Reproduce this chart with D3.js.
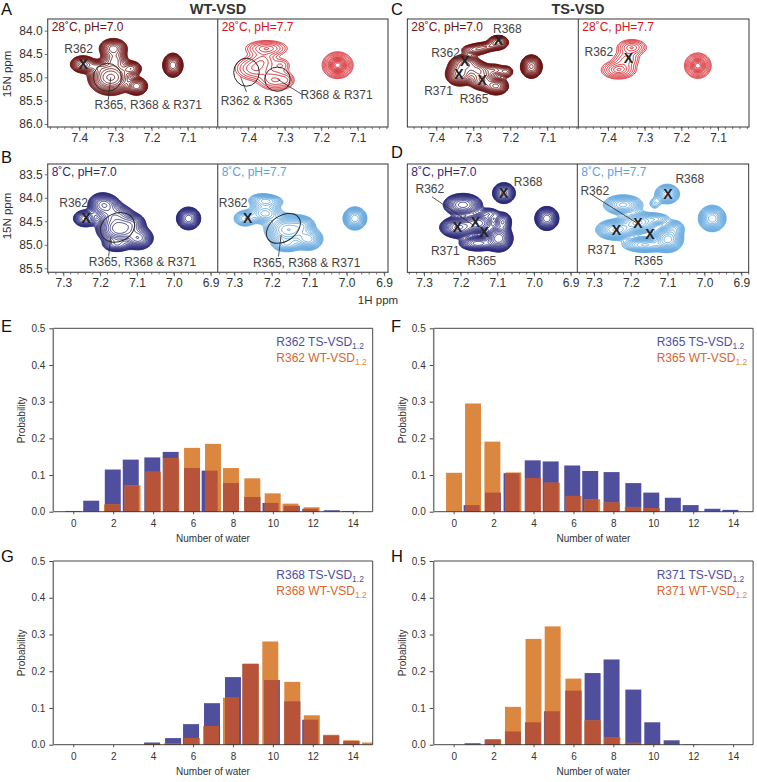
<!DOCTYPE html>
<html>
<head>
<meta charset="utf-8">
<script src="https://cdn.jsdelivr.net/npm/d3@7"></script>
<style>
html, body { margin: 0; padding: 0; background: #fff; }
text { font-family: "Liberation Sans", Arial, sans-serif; fill: #333; }
</style>
</head>
<body>
<div id="viz"></div>
<script>
// water histograms, x = where the bin really falls, p = probability
var waterTicks = [0, 2, 4, 6, 8, 10, 12, 14];
var probTicks = [0, 0.1, 0.2, 0.3, 0.4, 0.5];

var r362TsX = [0, 0.9, 1.98, 2.88, 3.96, 4.88, 5.95, 6.83, 7.9, 8.97, 9.88, 10.95, 11.87, 12.95, 13.87];
var r362Ts  = [0.002, 0.03, 0.115, 0.142, 0.148, 0.163, 0.119, 0.112, 0.078, 0.04, 0.024, 0.016, 0.008, 0.004, 0.002];
var r362WtX = [1.94, 2.97, 3.99, 4.91, 5.95, 7, 7.9, 8.97, 9.99, 10.88, 11.94];
var r362Wt  = [0.02, 0.072, 0.109, 0.146, 0.174, 0.185, 0.119, 0.091, 0.05, 0.022, 0.012];

var r365TsX = [0.9, 1.97, 2.9, 3.96, 4.86, 5.94, 6.84, 7.91, 9, 9.9, 10.98, 11.87, 12.96, 13.86];
var r365Ts  = [0.018, 0.052, 0.105, 0.14, 0.137, 0.126, 0.111, 0.108, 0.078, 0.052, 0.038, 0.018, 0.008, 0.005];
var r365WtX = [0.02, 0.97, 1.94, 2.99, 3.98, 4.92, 6.01, 6.94, 7.92, 8.97, 9.92, 10.9, 11.94];
var r365Wt  = [0.106, 0.295, 0.191, 0.107, 0.092, 0.079, 0.043, 0.034, 0.025, 0.013, 0.01, 0.002, 0.001];

var r368TsX = [3.95, 5, 5.9, 6.95, 8, 8.88, 9.95, 10.97, 11.87, 12.92, 13.93];
var r368Ts  = [0.006, 0.018, 0.056, 0.113, 0.184, 0.22, 0.176, 0.118, 0.068, 0.025, 0.01];
var r368WtX = [3.95, 4.95, 5.95, 6.9, 7.9, 8.88, 9.87, 10.97, 11.95, 12.92, 13.93, 14.87];
var r368Wt  = [0.002, 0.004, 0.018, 0.051, 0.128, 0.22, 0.281, 0.171, 0.08, 0.027, 0.012, 0.006];

var r371TsX = [0.95, 1.95, 2.97, 3.97, 4.92, 6, 6.96, 7.91, 9, 9.95, 10.92, 11.9];
var r371Ts  = [0.004, 0.014, 0.036, 0.061, 0.091, 0.147, 0.195, 0.232, 0.15, 0.061, 0.012, 0.001];
var r371WtX = [1.98, 2.97, 4, 4.96, 6, 6.96, 7.95, 8.98, 9.95];
var r371Wt  = [0.014, 0.103, 0.288, 0.322, 0.18, 0.066, 0.021, 0.005, 0.001];

// HSQC peak lists: 1H ppm, 15N ppm, width 1H, width 15N, height, tilt
var peaksA1 = [[7.39,84.72,0.017,0.09,8,0],[7.352,84.77,0.015,0.07,3,0],[7.306,84.38,0.019,0.105,8,0],[7.301,84.63,0.018,0.1,5,0],[7.313,85.0,0.028,0.17,14,0],[7.255,84.81,0.014,0.08,6,0],[7.241,85.19,0.014,0.09,10,0],[7.141,84.74,0.012,0.11,16,0]];
var peaksA2 = [[7.382,84.81,0.03,0.14,5,0],[7.35,84.38,0.03,0.09,6,0],[7.359,84.63,0.02,0.1,3,0],[7.309,84.74,0.015,0.09,2.5,0],[7.327,85.06,0.025,0.12,5,0],[7.295,85.06,0.012,0.09,2,0],[7.155,84.74,0.0185,0.125,14,0]];
var peaksC1 = [[7.233,84.25,0.015,0.08,6,0],[7.296,84.41,0.022,0.07,3.5,0],[7.265,84.34,0.02,0.06,3,0],[7.337,84.93,0.018,0.12,10,0],[7.322,84.7,0.02,0.09,8,0],[7.287,84.84,0.018,0.09,6,0],[7.277,85.06,0.018,0.11,7,0],[7.238,85.19,0.016,0.09,9,0],[7.211,84.88,0.012,0.08,3,0],[7.242,84.84,0.014,0.08,3,0],[7.143,84.77,0.0129,0.11,14,0]];
var peaksC2 = [[7.335,84.36,0.021,0.09,6,0],[7.371,84.84,0.024,0.1,7,0],[7.35,84.61,0.02,0.1,4,0],[7.155,84.75,0.0163,0.122,12,0]];
var peaksB1 = [[7.241,84.44,0.016,0.09,7,0],[7.195,84.15,0.018,0.12,9,0],[7.18,84.15,0.018,0.1,5,0],[7.16,84.37,0.024,0.12,8,0],[7.148,84.66,0.026,0.14,20,0],[7.096,84.86,0.018,0.11,12,0],[7.11,84.54,0.016,0.1,6,0],[7.155,85.0,0.02,0.08,5,0],[6.96,84.44,0.014,0.103,16,0]];
var peaksB2 = [[7.272,84.44,0.016,0.09,5,0],[7.218,84.33,0.022,0.11,7,0],[7.227,84.05,0.02,0.08,4,0],[7.205,84.08,0.02,0.07,4,0],[7.156,84.68,0.028,0.15,14,0],[7.102,84.88,0.018,0.11,10,0],[7.16,85.0,0.02,0.08,5,0],[7.116,84.58,0.015,0.09,5,0],[6.978,84.44,0.0139,0.108,14,0]];
var peaksD1 = [[7.082,83.9,0.014,0.1,12,0],[7.207,84.63,0.022,0.1,14,0],[7.194,84.15,0.024,0.11,12,0],[7.153,84.54,0.022,0.1,10,0],[7.096,84.86,0.016,0.12,20,0],[7.085,84.51,0.012,0.1,7,0],[7.153,84.97,0.025,0.08,8,0],[7.121,84.33,0.015,0.07,3,0],[6.965,84.44,0.014,0.109,16,0]];
var peaksD2 = [[7.101,83.92,0.016,0.1,9,0],[7.135,84.12,0.01,0.08,2,0],[7.242,84.68,0.024,0.1,12,0],[7.221,84.15,0.025,0.1,10,0],[7.181,84.53,0.024,0.11,10,0],[7.099,84.88,0.018,0.12,16,0],[7.081,84.65,0.014,0.09,5,0],[7.13,84.45,0.02,0.07,4,0],[7.162,85.0,0.03,0.08,8,0],[6.979,84.44,0.0165,0.123,14,0]];

// contour levels, close together near the rim like the spectra
var levelsDark = [1, 1.1, 1.22, 1.36, 1.52, 1.7, 1.95, 2.25, 2.6, 3, 3.5, 4.1, 4.9, 5.9, 7, 8.5, 10.5, 13, 16];
var levelsRed = [1, 1.4, 2, 2.8, 3.8, 5, 6, 7, 8, 9, 10, 11, 12, 13];
var levelsSky = [1, 1.2, 1.45, 1.75, 2.1, 2.5, 3, 3.6, 4.3, 5.2, 6.3, 7.6, 9.2, 11.5, 14];

var colDark = "#6e1414", colRed = "#d2161e", colNavy = "#2b2a7c", colSky = "#5ba4de";
var colTs = "#4f4f9d", colWt = "#dc873f", colBoth = "#b65338";

var width = 757, height = 782;
var svg = d3.select("#viz").append("svg").attr("width", width).attr("height", height);

function addText(t, x, y, size, anchor, opts) {
	var el = svg.append("text").attr("x", x).attr("y", y).attr("font-size", size)
		.attr("text-anchor", anchor || "start").text(t);
	if (opts && opts.fill) el.style("fill", opts.fill);
	if (opts && opts.bold) el.attr("font-weight", "bold");
	if (opts && opts.rot) el.attr("transform", "rotate(-90 " + x + " " + y + ")");
	return el;
}

var clipId = 0;
function drawSpectrum(o) {
	var sx = d3.scaleLinear().domain(o.xDomain).range(o.xRange);
	var sy = d3.scaleLinear().domain(o.yDomain).range(o.yRange);
	var g = svg.append("g");
	var id = "clip" + (clipId++);
	g.append("clipPath").attr("id", id).append("rect")
		.attr("x", o.left).attr("y", o.top).attr("width", o.right - o.left).attr("height", o.bottom - o.top);

	// peak sum on a grid, then d3.contours does the lines
	var nx = 260, ny = 170;
	var field = new Float64Array(nx * ny);
	for (var j = 0; j < ny; j++) {
		for (var i = 0; i < nx; i++) {
			var H = sx.invert(o.left + (o.right - o.left) * i / (nx - 1));
			var N = sy.invert(o.top + (o.bottom - o.top) * j / (ny - 1));
			var v = 0;
			o.peaks.forEach(function(p) {
				var dx = (H - p[0]) / p[2], dy = (N - p[1]) / p[3], r = p[5];
				v += p[4] * Math.exp(-(dx * dx - 2 * r * dx * dy + dy * dy) / (2 * (1 - r * r)));
			});
			field[j * nx + i] = v;
		}
	}
	var cs = d3.contours().size([nx, ny]).thresholds(o.levels)(Array.from(field));
	var proj = d3.geoTransform({ point: function(x, y) {
		this.stream.point(o.left + (x - 0.5) * (o.right - o.left) / (nx - 1), o.top + (y - 0.5) * (o.bottom - o.top) / (ny - 1));
	}});
	g.append("g").attr("clip-path", "url(#" + id + ")").selectAll("path").data(cs).enter().append("path")
		.attr("d", d3.geoPath(proj)).attr("fill", "none").attr("stroke", o.color).attr("stroke-width", 0.9);

	// axis with minor ticks
	var bottom = d3.axisBottom(sx).tickValues(o.xTicks).tickFormat(d3.format(".1f")).tickSize(4).tickPadding(2.5);
	var ax = svg.append("g").attr("transform", "translate(0," + o.bottom + ")").call(bottom);
	ax.select(".domain").remove();
	ax.selectAll("line").attr("stroke", "#333").attr("stroke-width", 0.7);
	ax.selectAll("text").attr("font-size", 12);
	var minor = d3.range(Math.round(sx.invert(o.right) * 50), Math.round(sx.invert(o.left) * 50) + 1).map(function(d) { return d / 50; });
	svg.append("g").selectAll("line").data(minor.filter(function(d) { return sx(d) >= o.left && sx(d) <= o.right; })).enter().append("line")
		.attr("x1", function(d) { return sx(d); }).attr("x2", function(d) { return sx(d); })
		.attr("y1", o.bottom).attr("y2", o.bottom + 2.2).attr("stroke", "#333").attr("stroke-width", 0.7);
	if (o.yTicks) {
		var ay = svg.append("g").attr("transform", "translate(" + o.left + ",0)")
			.call(d3.axisLeft(sy).tickValues(o.yTicks).tickFormat(d3.format(".1f")).tickSize(3).tickPadding(2));
		ay.select(".domain").remove();
		ay.selectAll("line").attr("stroke", "#333").attr("stroke-width", 0.7);
		ay.selectAll("text").attr("font-size", 12);
	}

	addText(o.title, (o.left + 4), o.top + 12, 12, "start", { fill: o.color });

	(o.ellipses || []).forEach(function(e) {
		var cx = sx(e[0]), cy = sy(e[1]);
		svg.append("ellipse").attr("cx", cx).attr("cy", cy)
			.attr("rx", Math.abs(sx(e[0] + e[2]) - cx)).attr("ry", Math.abs(sy(e[1] + e[3]) - cy))
			.attr("transform", "rotate(" + e[4] + " " + cx + " " + cy + ")")
			.attr("fill", "none").attr("stroke", "#2b2b2b").attr("stroke-width", 1);
	});
	(o.leaders || []).forEach(function(l) {
		svg.append("line").attr("x1", sx(l[0])).attr("y1", sy(l[1])).attr("x2", sx(l[2])).attr("y2", sy(l[3]))
			.attr("stroke", "#2b2b2b").attr("stroke-width", 0.8);
	});
	(o.labels || []).forEach(function(l) {
		addText(l[0], sx(l[1]), sy(l[2]) + 4, 12, "middle", { fill: "#444" });
	});
	(o.crosses || []).forEach(function(c) {
		addText("X", sx(c[0]), sy(c[1]) + 5, 14, "middle", { fill: "#222", bold: true });
	});
}

function drawHist(o) {
	var sx = d3.scaleLinear().domain([-1, 15]).range([o.left, o.left + 319.4]);
	var sy = d3.scaleLinear().domain([0, 0.5]).range([o.bottom, o.top]);
	var hw = 0.4;
	var g = svg.append("g");
	var rects = function(data, color) {
		g.append("g").selectAll("rect").data(data).enter().append("rect")
			.attr("x", function(d) { return sx(d.x0); })
			.attr("width", function(d) { return sx(d.x1) - sx(d.x0); })
			.attr("y", function(d) { return sy(d.p); })
			.attr("height", function(d) { return sy(0) - sy(d.p); })
			.attr("fill", color);
	};
	var ts = o.tsX.map(function(x, i) { return { x0: x - hw, x1: x + hw, p: o.ts[i] }; });
	var wt = o.wtX.map(function(x, i) { return { x0: x - hw, x1: Math.min(x + hw, 15), p: o.wt[i] }; });
	var both = [];
	ts.forEach(function(a) {
		wt.forEach(function(b) {
			var x0 = Math.max(a.x0, b.x0), x1 = Math.min(a.x1, b.x1);
			if (x1 > x0) both.push({ x0: x0, x1: x1, p: Math.min(a.p, b.p) });
		});
	});
	rects(ts, colTs);
	rects(wt, colWt);
	rects(both, colBoth);

	var ax = svg.append("g").attr("transform", "translate(0," + o.bottom + ")")
		.call(d3.axisBottom(sx).tickValues(waterTicks).tickSize(2.5).tickPadding(6));
	ax.select(".domain").remove();
	ax.selectAll("line").attr("stroke", "#555");
	ax.selectAll("text").attr("font-size", 10);
	var ay = svg.append("g").attr("transform", "translate(" + o.left + ",0)")
		.call(d3.axisLeft(sy).tickValues(probTicks).tickFormat(d3.format(".1f")).tickSize(4).tickPadding(4));
	ay.select(".domain").remove();
	ay.selectAll("line").attr("stroke", "#444");
	ay.selectAll("text").attr("font-size", 10);

	// frame: left spine is heavier and grey
	var right = o.left + 319.4;
	svg.append("path").attr("d", "M" + o.left + "," + o.top + "H" + right + "V" + o.bottom + "H" + o.left).attr("fill", "none").attr("stroke", "#333").attr("stroke-width", 0.9);
	svg.append("line").attr("x1", o.left).attr("x2", o.left).attr("y1", o.top).attr("y2", o.bottom).attr("stroke", "#777").attr("stroke-width", 1.5);

	addText("Number of water", sx(7), o.bottom + 30, 10, "middle");
	addText("Probability", o.left - 28, (o.top + o.bottom) / 2, 10, "middle", { rot: true });

	var lx = o.left + 223;
	var a = addText("", lx, o.top + 18, 12, "start", { fill: colTs });
	a.append("tspan").text(o.name + " TS-VSD");
	a.append("tspan").text("1.2").attr("font-size", 8.5).attr("dy", 3);
	var b = addText("", lx, o.top + 33.5, 12, "start", { fill: "#d8662c" });
	b.append("tspan").text(o.name + " WT-VSD");
	b.append("tspan").text("1.2").attr("font-size", 8.5).attr("dy", 3).style("fill", "#e08a45");
}

// frames of the four spectrum pairs
function frame(l, m, r, t, b, col, sw) {
	svg.append("rect").attr("x", l).attr("y", t).attr("width", r - l).attr("height", b - t)
		.attr("fill", "none").attr("stroke", col).attr("stroke-width", sw);
	svg.append("line").attr("x1", m).attr("x2", m).attr("y1", t).attr("y2", b).attr("stroke", col).attr("stroke-width", sw);
}

var ticksTop = [7.4, 7.3, 7.2, 7.1];
var ticksBot = [7.3, 7.2, 7.1, 7.0, 6.9];

drawSpectrum({ left: 47.7, right: 217.7, top: 19, bottom: 127, xDomain: [7.4, 7.1], xRange: [79.3, 187.7], yDomain: [84, 86], yRange: [30.7, 124],
	xTicks: ticksTop, yTicks: [84, 84.5, 85, 85.5, 86], peaks: peaksA1, levels: levelsDark, color: colDark, title: "28˚C, pH=7.0",
	ellipses: [[7.322, 85, 0.039, 0.3, 0]], leaders: [[7.313, 85, 7.32, 85.49]],
	labels: [["R362", 7.402, 84.4], ["R365, R368 & R371", 7.209, 85.59]], crosses: [[7.389, 84.71]] });
drawSpectrum({ left: 217.7, right: 388, top: 19, bottom: 127, xDomain: [7.4, 7.1], xRange: [248.3, 357.7], yDomain: [84, 86], yRange: [30.7, 124],
	xTicks: ticksTop, peaks: peaksA2, levels: levelsRed, color: colRed, title: "28˚C, pH=7.7",
	ellipses: [[7.405, 84.89, 0.035, 0.3, 0], [7.32, 85.04, 0.035, 0.26, 0]], leaders: [[7.421, 85, 7.405, 85.31], [7.32, 85.04, 7.254, 85.36]],
	labels: [["R362 & R365", 7.377, 85.5], ["R368 & R371", 7.158, 85.38]] });
drawSpectrum({ left: 407.3, right: 578.3, top: 19, bottom: 127, xDomain: [7.4, 7.1], xRange: [436.3, 547.3], yDomain: [84, 86], yRange: [30.7, 124],
	xTicks: ticksTop, peaks: peaksC1, levels: levelsDark, color: colDark, title: "28˚C, pH=7.0",
	labels: [["R368", 7.208, 83.97], ["R362", 7.375, 84.47], ["R371", 7.394, 85.29], ["R365", 7.298, 85.47]],
	crosses: [[7.232, 84.21], [7.323, 84.66], [7.339, 84.93], [7.276, 85.06]] });
drawSpectrum({ left: 578.3, right: 749, top: 19, bottom: 127, xDomain: [7.4, 7.1], xRange: [608, 718], yDomain: [84, 86], yRange: [30.7, 124],
	xTicks: ticksTop, peaks: peaksC2, levels: levelsRed, color: colRed, title: "28˚C, pH=7.7",
	labels: [["R362", 7.425, 84.45]], crosses: [[7.344, 84.59]] });
drawSpectrum({ left: 47.7, right: 217.7, top: 164, bottom: 272.3, xDomain: [7.3, 6.9], xRange: [63.3, 210.7], yDomain: [83.5, 85.5], yRange: [174.3, 268.3],
	xTicks: ticksBot, yTicks: [83.5, 84, 84.5, 85, 85.5], peaks: peaksB1, levels: levelsDark, color: colNavy, title: "8˚C, pH=7.0",
	ellipses: [[7.153, 84.63, 0.048, 0.3, -25]], leaders: [[7.171, 84.83, 7.177, 85.25]],
	labels: [["R362", 7.272, 84.1], ["R365, R368 & R371", 7.085, 85.37]], crosses: [[7.238, 84.42]] });
drawSpectrum({ left: 217.7, right: 388, top: 164, bottom: 272.3, xDomain: [7.3, 7.0], xRange: [234.3, 346.7], yDomain: [83.5, 85.5], yRange: [174.3, 268.3],
	xTicks: ticksBot, peaks: peaksB2, levels: levelsSky, color: colSky, title: "8˚C, pH=7.7",
	ellipses: [[7.169, 84.65, 0.05, 0.27, -35]], leaders: [[7.175, 84.79, 7.182, 85.25]],
	labels: [["R362", 7.303, 84.12], ["R365, R368 & R371", 7.107, 85.39]], crosses: [[7.264, 84.42]] });
drawSpectrum({ left: 407.3, right: 577.3, top: 164, bottom: 272.3, xDomain: [7.3, 6.9], xRange: [424, 570.7], yDomain: [83.5, 85.5], yRange: [174.3, 268.3],
	xTicks: ticksBot, peaks: peaksD1, levels: levelsDark, color: colNavy, title: "8˚C, pH=7.0",
	leaders: [[7.278, 83.98, 7.166, 84.58]],
	labels: [["R368", 7.016, 83.66], ["R362", 7.284, 83.81], ["R371", 7.242, 85.14], ["R365", 7.142, 85.34]],
	crosses: [[7.083, 83.89], [7.209, 84.63], [7.16, 84.52], [7.136, 84.73]] });
drawSpectrum({ left: 577.3, right: 748.7, top: 164, bottom: 272.3, xDomain: [7.3, 6.9], xRange: [594, 741.3], yDomain: [83.5, 85.5], yRange: [174.3, 268.3],
	xTicks: ticksBot, peaks: peaksD2, levels: levelsSky, color: colSky, title: "8˚C, pH=7.7",
	leaders: [[7.309, 83.92, 7.185, 84.53]],
	labels: [["R368", 7.04, 83.6], ["R362", 7.298, 83.85], ["R371", 7.279, 85.11], ["R365", 7.152, 85.34]],
	crosses: [[7.099, 83.92], [7.239, 84.68], [7.181, 84.53], [7.148, 84.76]] });

frame(47.7, 217.7, 388, 19, 127, "#555", 1.2);
frame(407.3, 578.3, 749, 19, 127, "#222", 0.9);
frame(47.7, 217.7, 388, 164, 272.3, "#555", 1.2);
frame(407.3, 577.3, 748.7, 164, 272.3, "#222", 0.9);

drawHist({ left: 53.3, top: 328.3, bottom: 511.7, name: "R362", tsX: r362TsX, ts: r362Ts, wtX: r362WtX, wt: r362Wt });
drawHist({ left: 433.7, top: 328.3, bottom: 511.7, name: "R365", tsX: r365TsX, ts: r365Ts, wtX: r365WtX, wt: r365Wt });
drawHist({ left: 53.3, top: 561, bottom: 744.7, name: "R368", tsX: r368TsX, ts: r368Ts, wtX: r368WtX, wt: r368Wt });
drawHist({ left: 433.7, top: 561, bottom: 744.7, name: "R371", tsX: r371TsX, ts: r371Ts, wtX: r371WtX, wt: r371Wt });

// titles and panel letters
addText("WT-VSD", 218, 14, 14.5, "middle", { bold: true });
addText("TS-VSD", 578, 14, 14.5, "middle", { bold: true });
addText("1H ppm", 378, 304, 11.5, "middle");
addText("15N ppm", 11, 74, 11.5, "middle", { rot: true });
addText("15N ppm", 11, 216, 11.5, "middle", { rot: true });
[["A", 1, 15], ["B", 1, 163], ["C", 391, 15], ["D", 391, 158], ["E", 1, 332], ["F", 391, 332], ["G", 1, 562], ["H", 391, 562]].forEach(function(d) {
	addText(d[0], d[1], d[2], 16.5, "start", { fill: "#111" });
});
</script>
</body>
</html>
